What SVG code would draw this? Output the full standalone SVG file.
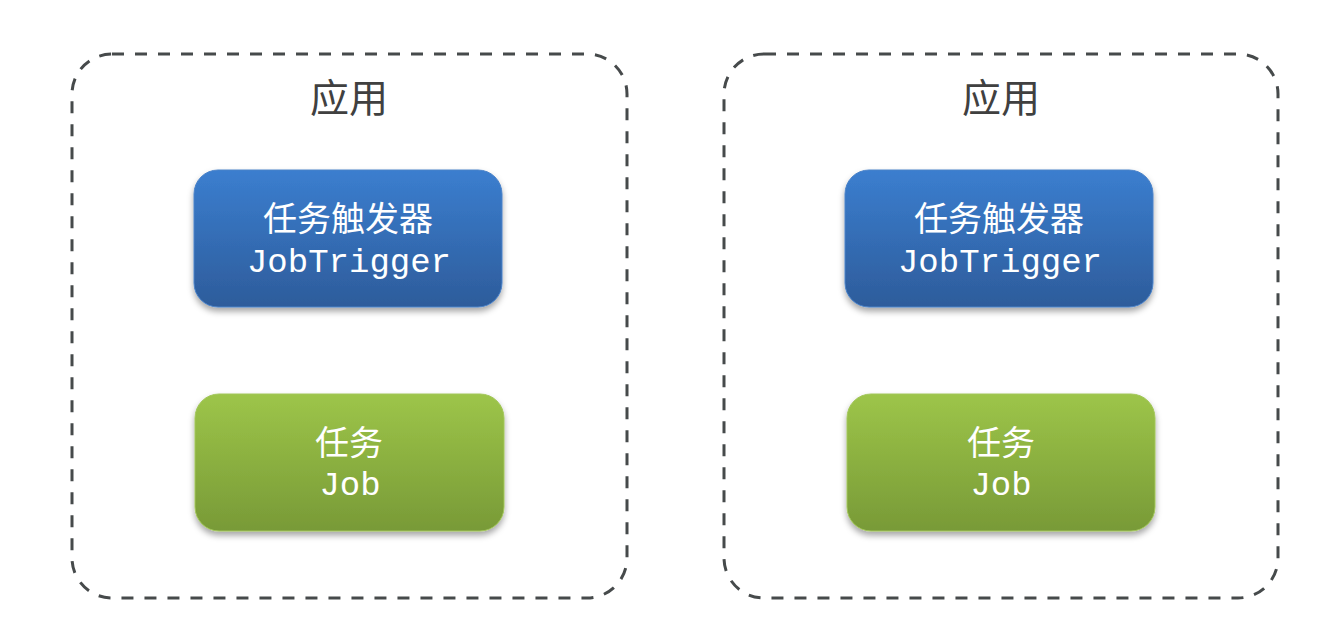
<svg xmlns="http://www.w3.org/2000/svg" width="1341" height="620" viewBox="0 0 1341 620">
<defs>
<linearGradient id="gBlue" x1="0" y1="0" x2="0" y2="1"><stop offset="0" stop-color="#3b7ecf"/><stop offset="1" stop-color="#2d5c9b"/></linearGradient>
<linearGradient id="gGreen" x1="0" y1="0" x2="0" y2="1"><stop offset="0" stop-color="#9dc549"/><stop offset="1" stop-color="#789a37"/></linearGradient>
<filter id="sh" x="-10%" y="-10%" width="120%" height="130%"><feDropShadow dx="0" dy="4" stdDeviation="3" flood-color="#000" flood-opacity="0.35"/></filter>
<style>
.cont{fill:none;stroke:#464a4b;stroke-width:3;stroke-dasharray:12 11}
.title{font-family:"Noto Sans CJK SC",sans-serif;font-size:39px;fill:#404040;text-anchor:middle}
.cn{font-family:"Noto Sans CJK SC",sans-serif;font-size:34px;fill:#fff;text-anchor:middle}
.en{font-family:"Liberation Mono","DejaVu Sans Mono",monospace;font-size:34px;fill:#fff;text-anchor:middle}
.blue{fill:url(#gBlue);stroke:#4a82c8;stroke-width:1;filter:url(#sh)}
.green{fill:url(#gGreen);stroke:#a2c65a;stroke-width:1;filter:url(#sh)}
</style>
</defs>
<g id="app1">
<rect class="cont" x="72" y="54" width="555" height="544" rx="40"/>
<text class="title" x="349" y="112">应用</text>
</g>
<g id="app2">
<rect class="cont" x="724" y="54" width="554" height="544" rx="40"/>
<text class="title" x="1001" y="112">应用</text>
</g>
<g id="trigger1">
<rect class="blue" x="194" y="170" width="308" height="137" rx="24"/>
<text class="cn" x="348" y="231">任务触发器</text>
<text class="en" x="349" y="272">JobTrigger</text>
</g>
<g id="job1">
<rect class="green" x="195" y="394" width="309" height="137" rx="24"/>
<text class="cn" x="349" y="455">任务</text>
<text class="en" x="350" y="495">Job</text>
</g>
<g id="trigger2">
<rect class="blue" x="845" y="170" width="308" height="137" rx="24"/>
<text class="cn" x="999" y="231">任务触发器</text>
<text class="en" x="1000" y="272">JobTrigger</text>
</g>
<g id="job2">
<rect class="green" x="847" y="394" width="308" height="137" rx="24"/>
<text class="cn" x="1001" y="455">任务</text>
<text class="en" x="1001" y="495">Job</text>
</g>
<g id="connectors"></g>
</svg>
